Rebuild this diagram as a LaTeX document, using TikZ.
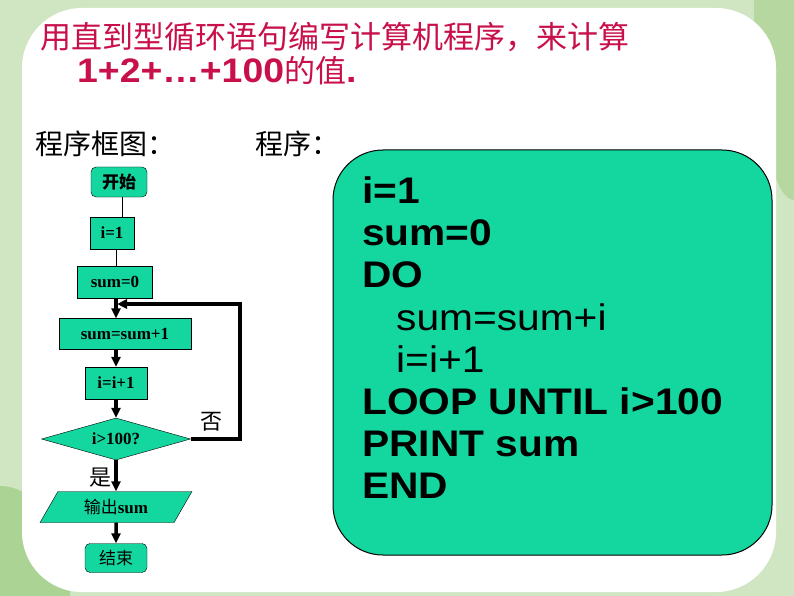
\documentclass[tikz,border=0pt]{standalone}
\usepackage{fontspec}
\setmainfont{Liberation Serif}
\setsansfont{Liberation Sans}
\newfontfamily\cjk{Noto Sans CJK SC}
\newfontfamily\progfont[FakeStretch=1.1]{Liberation Sans}
\usetikzlibrary{positioning,shapes.geometric,arrows.meta}
\definecolor{boxgreen}{RGB}{20,215,160}
\definecolor{titlered}{RGB}{200,16,74}
\definecolor{leaf}{RGB}{150,200,120}

\begin{document}
\begin{tikzpicture}[x=1pt,y=-1pt,
                    flow/.style={rectangle,draw=black,fill=boxgreen,minimum height=31,inner sep=1,font=\bfseries\fontsize{17}{17}\selectfont},
                    term/.style={flow,rounded corners=5},
                    ar/.style={-{Triangle[length=10,width=9]},line width=3.5}
                ]
    % background
    \useasboundingbox (0,0) rectangle (794,596);
    \clip (0,0) rectangle (794,596);
    \fill[leaf!45] (0,0) rectangle (794,596);
    \fill[leaf!80] (0,596) ellipse (70 and 110);
    \fill[leaf!70] (794,0) ellipse (40 and 200);
    \fill[white,rounded corners=60] (22,8) rectangle (776,592);

    % title
    \node[anchor=west,text=titlered,inner sep=0] (title) at (40,37)
        {\cjk\fontsize{31}{31}\selectfont 用直到型循环语句编写计算机程序，来计算};
    \node[anchor=west,text=titlered,inner sep=0] (title2) at (77,71)
        {\progfont\bfseries\fontsize{34}{34}\selectfont 1+2+…+100{\cjk\mdseries\fontsize{31}{31}\selectfont 的值}.};
    \node[anchor=west,inner sep=0] (lblchart) at (35,144) {\cjk\fontsize{28}{28}\selectfont 程序框图：};
    \node[anchor=west,inner sep=0] (lblprog) at (255,144) {\cjk\fontsize{28}{28}\selectfont 程序：};

    % program
    \node[draw=black,line width=1,fill=boxgreen,rounded corners=50,minimum width=439,minimum height=405] (prog) at (552.5,352.5) {};
    \foreach \t [count=\k] in {i=1,sum=0,DO,{\hspace*{34pt}\mdseries sum=sum+i},{\hspace*{34pt}\mdseries i=i+1},LOOP UNTIL i>100,PRINT sum,END}
        \node[anchor=west,inner sep=0,font=\progfont\bfseries\fontsize{37}{37}\selectfont] (p\k) at (362,{190+42.3*(\k-1)}) {\t};

    % flowchart
    \node[term,minimum width=56,minimum height=30] (start) at (119,182) {\cjk 开始};
    \node[flow,minimum width=44,minimum height=32] (s1) at (112,233) {i=1};
    \node[flow,minimum width=75,minimum height=32] (s2) at (115,282) {sum=0};
    \node[flow,minimum width=132,minimum height=31] (s3) at (125,334) {sum=sum+1};
    \node[flow,minimum width=62,minimum height=32] (s4) at (116,383) {i=i+1};
    \node[diamond,aspect=3.6,draw=black,fill=boxgreen,inner sep=0,minimum width=149,minimum height=42,
          font=\bfseries\fontsize{17}{17}\selectfont] (cond) at (116,439) {i>100?};
    \node[trapezium,trapezium left angle=60,trapezium right angle=120,draw=black,fill=boxgreen,
          minimum width=120,minimum height=31,inner sep=1,font=\bfseries\fontsize{17}{17}\selectfont] (out) at (116,507) {{\cjk\mdseries 输出}sum};
    \node[term,minimum width=62,minimum height=29] (stop) at (116,558) {\cjk\mdseries 结束};

    \draw (start.south -| 122,0) -- (s1.north -| 122,0);
    \draw (s1.south -| 116,0) -- (s2.north -| 116,0);
    \draw[ar] (s2.south -| 116,0) -- (s3.north -| 116,0);
    \draw[ar] (s3.south -| 116,0) -- (s4.north -| 116,0);
    \draw[ar] (s4) -- (cond);
    \draw[ar] (cond) -- (out);
    \draw[ar] (out) -- (stop);
    \draw[ar] (cond.east) -| (240,304) -- (117,304);
    \node[font=\cjk\fontsize{22}{22}\selectfont] (no) at (211,422) {否};
    \node[font=\cjk\fontsize{22}{22}\selectfont] (yes) at (100,478) {是};
\end{tikzpicture}
\end{document}
